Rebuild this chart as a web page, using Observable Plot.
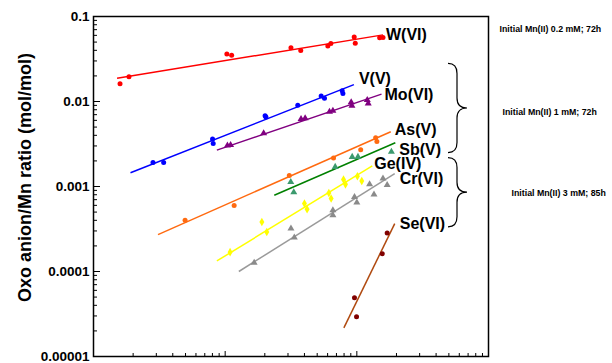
<!DOCTYPE html>
<html><head><meta charset="utf-8">
<script src="https://cdn.jsdelivr.net/npm/d3@7"></script>
<script src="https://cdn.jsdelivr.net/npm/@observablehq/plot@0.6"></script>
<style>body{margin:0;background:#fff}</style>
</head><body><div id="chart"></div>
<script>
// ---------- data ----------
const seriesNames = ["W(VI)", "V(V)", "Mo(VI)", "As(V)", "Sb(V)", "Ge(IV)", "Cr(VI)", "Se(VI)"];

const W_x = [1.59, 1.86, 10.3, 11.2, 31.6, 37.5, 60.2, 63.5, 95.5, 97.3, 149, 158];
const W_y = [0.0162, 0.0195, 0.0361, 0.0351, 0.0428, 0.0397, 0.0451, 0.0481, 0.0572, 0.0486, 0.0561, 0.0565];
const V_x = [2.83, 3.41, 8.02, 8.11, 20.1, 20.4, 35.6, 53.6, 56.8, 77.4, 78.4];
const V_y = [0.00192, 0.00192, 0.00361, 0.00321, 0.00681, 0.00656, 0.00902, 0.0116, 0.0109, 0.0134, 0.0124];
const Mo_x = [10.4, 11.0, 19.6, 37.7, 40.5, 62.0, 65.8, 90.6, 91.8, 120, 122];
const Mo_y = [0.00304, 0.00307, 0.00422, 0.00622, 0.00634, 0.00759, 0.0078, 0.0098, 0.0089, 0.0104, 0.0095];
const As_x = [4.96, 11.7, 30.7, 66.5, 107, 139, 142];
const As_y = [0.000401, 0.000597, 0.00135, 0.00217, 0.0027, 0.00374, 0.00339];
const Sb_x = [31.5, 33.2, 68.5, 92.2, 102, 183];
const Sb_y = [0.00113, 0.000857, 0.0017, 0.00223, 0.00223, 0.00256];
const Ge_x = [10.9, 19.0, 20.7, 40.0, 41.9, 61.3, 63.8, 79.2, 82.0, 101, 109];
const Ge_y = [0.000169, 0.000383, 0.000292, 0.000631, 0.00054, 0.00084, 0.000722, 0.00121, 0.00106, 0.00132, 0.00116];
const Cr_x = [16.6, 31.6, 33.5, 65.8, 65.8, 96.0, 100, 125, 135, 158, 170];
const Cr_y = [0.000127, 0.00032, 0.000251, 0.000526, 0.000459, 0.000754, 0.000648, 0.00106, 0.000805, 0.00124, 0.00104];
const Se_x = [170, 156, 96, 99.5];
const Se_y = [0.000284, 0.000162, 0.0000491, 0.0000293];

const seriesX = [W_x, V_x, Mo_x, As_x, Sb_x, Ge_x, Cr_x, Se_x];
const seriesY = [W_y, V_y, Mo_y, As_y, Sb_y, Ge_y, Cr_y, Se_y];

// fitted lines (end points)
const fitX1 = [1.51, 1.91, 8.65, 3.09, 23.6, 8.65, 12.7, 79.7];
const fitY1 = [0.0188, 0.00145, 0.00268, 0.000272, 0.000789, 0.000133, 0.0001, 0.0000217];
const fitX2 = [158, 95.0, 154, 181, 196, 131, 194, 194];
const fitY2 = [0.0608, 0.0158, 0.0122, 0.00441, 0.00327, 0.00175, 0.00142, 0.000366];

// axis ticks
const yTicks = [0.00001, 0.0001, 0.001, 0.01, 0.1];
const yTickLabels = ["0.00001", "0.0001", "0.001", "0.01", "0.1"];
const xMajorTicks = [1, 10, 100, 1000];
const xDomain = [1, 1000];

// group annotations
const groupLabels = ["Initial Mn(II) 0.2 mM; 72h", "Initial Mn(II) 1 mM; 72h", "Initial Mn(II) 3 mM; 85h"];
const groupLabelY = [0.0716, 0.0075, 0.00083];
const braceTop = [0.0277, 0.00216];
const braceBottom = [0.00247, 0.000331];

const yLabel = "Oxo anion/Mn ratio (mol/mol)";

// ---------- styles ----------
const symbols = ["circle", "circle", "triangle", "circle", "triangle", "diamond", "triangle", "circle"];
const pointColors = ["#ff0000", "#0000ff", "#800080", "#ff6a10", "#3c9a6e", "#ffff00", "#8a8a8a", "#800000"];
const lineColors = ["#ff0000", "#0000ff", "#800080", "#ff6a10", "#008000", "#ffff00", "#9a9a9a", "#b04a10"];
const pointR = {circle: 2.5, triangle: 2.6, diamond: 2.6};
const labelDx = [3, 5, 3, 4, 4, 2, 5, 5];
const labelDy = [0, -6, 1, -2, 7, -2, 5, 0];
const groupDx = [11, 14, 23];

const W = 612, H = 363, mL = 93, mR = 124, mT = 16, mB = 7;
const pw = W - mL - mR, ph = H - mT - mB;

const yMinor = [];
for (let e = -5; e < -1; e++) for (let k = 2; k <= 9; k++) yMinor.push(k * Math.pow(10, e));
const xMinor = [];
for (let e = 0; e < 3; e++) for (let k = 2; k <= 9; k++) xMinor.push(k * Math.pow(10, e));

const yFmt = new Map(yTicks.map((t, i) => [t, yTickLabels[i]]));

const marks = [];
seriesNames.forEach((name, i) => {
  marks.push(Plot.link([i], {x1: j => fitX1[j], y1: j => fitY1[j], x2: j => fitX2[j], y2: j => fitY2[j],
    stroke: lineColors[i], strokeWidth: 1.5}));
});
seriesNames.forEach((name, i) => {
  const pts = seriesX[i].map((x, j) => ({x, y: seriesY[i][j]}));
  marks.push(Plot.dot(pts, {x: "x", y: "y", symbol: symbols[i], r: pointR[symbols[i]], fill: pointColors[i], stroke: "none"}));
});
seriesNames.forEach((name, i) => {
  marks.push(Plot.text([name], {x: () => fitX2[i], y: () => fitY2[i], text: d => d, textAnchor: "start",
    dx: labelDx[i], dy: labelDy[i], fontSize: 16, fontWeight: "bold", fill: "black"}));
});

marks.push(Plot.frame({stroke: "black", strokeWidth: 1.5}));
marks.push(Plot.tickY(yTicks, {y: d => d, insetRight: pw - 7, stroke: "black", strokeWidth: 1}));
marks.push(Plot.tickY(yMinor, {y: d => d, insetRight: pw - 4, stroke: "black", strokeWidth: 1}));
marks.push(Plot.tickX(xMajorTicks, {x: d => d, insetTop: ph - 5, stroke: "black", strokeWidth: 1}));
marks.push(Plot.tickX(xMinor, {x: d => d, insetTop: ph - 3, stroke: "black", strokeWidth: 1}));
marks.push(Plot.axisY({ticks: yTicks, tickSize: 0, tickPadding: 4, tickFormat: d => yFmt.get(d),
  fontSize: 13.5, fontWeight: "bold", label: null}));
marks.push(Plot.text([yLabel], {frameAnchor: "left", textAnchor: "middle", rotate: -90, dx: -68, dy: -9,
  fontSize: 18, fontWeight: "bold", fill: "black"}));

// braces
braceTop.forEach((top, i) => {
  marks.push((index, scales, values, dims) => {
    const right = dims.width - dims.marginRight;
    const x0 = right - 40, xm = right - 31, xt = right - 21;
    const y0 = scales.y(top), y1 = scales.y(braceBottom[i]), ym = (y0 + y1) / 2, r = 10;
    const d = `M${x0},${y0} Q${xm},${y0} ${xm},${y0 + r} L${xm},${ym - r} Q${xm},${ym} ${xt},${ym} ` +
              `Q${xm},${ym} ${xm},${ym + r} L${xm},${y1 - r} Q${xm},${y1} ${x0},${y1}`;
    return d3.create("svg:path").attr("d", d).attr("fill", "none").attr("stroke", "black").attr("stroke-width", 1.2).node();
  });
});

groupLabels.forEach((g, i) => {
  marks.push(Plot.text([g], {y: () => groupLabelY[i], frameAnchor: "right", textAnchor: "start", dx: groupDx[i],
    fontSize: 8.8, fontWeight: "bold", fill: "black"}));
});

const chart = Plot.plot({
  width: W, height: H,
  marginLeft: mL, marginRight: mR, marginTop: mT, marginBottom: mB,
  style: {fontFamily: "'Liberation Sans', Arial, sans-serif", background: "white", overflow: "visible"},
  x: {type: "log", domain: xDomain, axis: null},
  y: {type: "log", domain: [yTicks[0], yTicks[yTicks.length - 1]], axis: null},
  marks
});
document.getElementById("chart").appendChild(chart);
</script></body></html>
